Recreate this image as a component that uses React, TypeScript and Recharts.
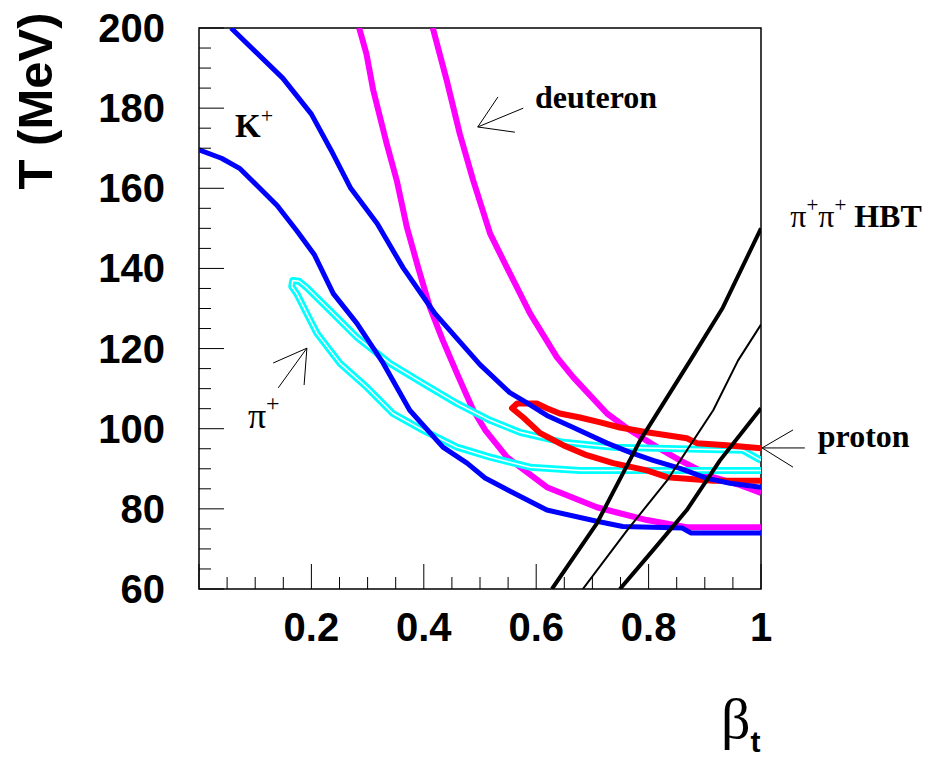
import React from 'react'
import { LineChart, Line, XAxis, YAxis, ReferenceArea, ReferenceLine, ReferenceDot } from 'recharts'

// contours: [beta_t, T in MeV]
const kaonUpper = [
  [0.057, 200], [0.149, 187.5], [0.2, 178.5], [0.235, 169.5], [0.27, 160], [0.317, 151.2], [0.363, 140.2],
  [0.42, 128.7], [0.5, 116], [0.553, 109], [0.577, 107], [0.619, 103.3], [0.666, 100.3],
  [0.726, 96.4], [0.767, 94.1], [0.808, 92.1], [0.856, 90.1], [0.904, 87.6], [0.945, 86.4], [1, 85.4],
]
const kaonLower = [
  [0, 169.6], [0.04, 167.5], [0.073, 164.9], [0.139, 155.7], [0.174, 149.4], [0.205, 143.5],
  [0.239, 133.7], [0.281, 126.3], [0.328, 116.3], [0.375, 104.6], [0.434, 95.4], [0.477, 91.4],
  [0.509, 87.7], [0.559, 84], [0.619, 79.7], [0.708, 76.9], [0.754, 75.6], [0.86, 75.2], [0.875, 74], [1, 74],
]
const deutLower = [
  [0.285, 200], [0.298, 193.5], [0.31, 184.5], [0.334, 171.1], [0.352, 161.9], [0.37, 150.2],
  [0.39, 140.2], [0.411, 130.2], [0.434, 122], [0.459, 113.8], [0.488, 104.6], [0.51, 99.5],
  [0.548, 92.9], [0.619, 85.4], [0.708, 80.4], [0.749, 78.9], [0.797, 77.2], [0.868, 75.4], [1, 75.4],
]
const deutUpper = [
  [0.416, 200], [0.441, 186.8], [0.464, 173.6], [0.488, 161.9], [0.518, 148.7], [0.548, 140.2],
  [0.589, 128.8], [0.637, 117.8], [0.666, 112.8], [0.726, 103.8], [0.767, 99.6], [0.815, 95.4],
  [0.856, 92.1], [0.915, 87.9], [0.963, 85.9], [1, 84],
]
const pionLoop = [
  [1, 92.1], [0.968, 94.6], [0.737, 95.4], [0.648, 96.6], [0.571, 99.1], [0.518, 102.1], [0.459, 106.3],
  [0.399, 111.3], [0.34, 116.3], [0.281, 122.8], [0.233, 129.5], [0.192, 135.2], [0.178, 136.8],
  [0.167, 137], [0.165, 135.5], [0.174, 133.7], [0.192, 128.7], [0.21, 123.8], [0.251, 116.3],
  [0.299, 110.3], [0.345, 103.8], [0.399, 99.6], [0.459, 95.4], [0.518, 92.9], [0.589, 90.4],
  [0.678, 89.6], [1, 89.6],
]
const protonLoop = [
  [1, 95.1], [0.939, 95.9], [0.886, 96.4], [0.868, 97.6], [0.797, 99.1], [0.749, 100.3], [0.714, 101.6],
  [0.678, 102.8], [0.642, 103.8], [0.619, 105.1], [0.601, 106.3], [0.566, 106.3], [0.557, 105.1],
  [0.577, 102.8], [0.607, 98.9], [0.648, 95.9], [0.69, 93.4], [0.737, 91.4], [0.797, 89.6],
  [0.833, 87.9], [0.915, 87], [1, 87],
]
const hbtA = [[0.628, 60], [0.708, 76.4], [0.785, 97.1], [0.874, 117], [0.932, 130.2], [1, 150]]
const hbtB = [[0.683, 60], [0.762, 74.7], [0.833, 87.1], [0.915, 104.6], [0.959, 117], [1, 126]]
const hbtC = [[0.749, 60], [0.808, 69.7], [0.868, 79.7], [0.927, 92.1], [1, 105.1]]

const xTicks = [0, 0.05, 0.1, 0.15, 0.2, 0.25, 0.3, 0.35, 0.4, 0.45, 0.5, 0.55, 0.6, 0.65, 0.7, 0.75, 0.8, 0.85, 0.9, 0.95, 1]
const xMajor = [0, 0.2, 0.4, 0.6, 0.8, 1]
const xLabels = ['', '0.2', '0.4', '0.6', '0.8', '1']
const yTicks = [60, 65, 70, 75, 80, 85, 90, 95, 100, 105, 110, 115, 120, 125, 130, 135, 140, 145, 150, 155, 160, 165, 170, 175, 180, 185, 190, 195, 200]
const yMajor = [60, 80, 100, 120, 140, 160, 180, 200]

// arrows: tip first, then the three barbs
const deutArrow = [[0.496, 175.3], [0.532, 182.8], [0.577, 180], [0.562, 174]]
const pionArrow = [[0.192, 120.1], [0.132, 116.4], [0.141, 110.2], [0.187, 110.9]]
const protonArrow = [[1.002, 95.2], [1.057, 99.7], [1.078, 95.2], [1.057, 90.4]]

const toPts = (a: number[][]) => a.map(([b, t]) => ({ b, t }))

const sans = '"Liberation Sans", Arial, sans-serif'
const serif = '"Liberation Serif", "Times New Roman", serif'

const XTick = (props: any) => {
  const { x, y, payload } = props
  const i = xMajor.indexOf(payload.value)
  const len = i >= 0 ? 25 : 12
  return (
    <g>
      <line x1={x} y1={y} x2={x} y2={y - len} stroke="#000" strokeWidth={1} />
      {i > 0 && (
        <text x={x} y={y + 52} textAnchor="middle" fontFamily={sans} fontWeight="bold" fontSize={40} fill="#000">
          {xLabels[i]}
        </text>
      )}
    </g>
  )
}

const YTick = (props: any) => {
  const { x, y, payload } = props
  const major = yMajor.includes(payload.value)
  return (
    <g>
      <line x1={x} y1={y} x2={x + (major ? 25 : 12)} y2={y} stroke="#000" strokeWidth={1} />
      {major && (
        <text x={x - 34} y={y + 14} textAnchor="end" fontFamily={sans} fontWeight="bold" fontSize={40} fill="#000">
          {payload.value}
        </text>
      )}
    </g>
  )
}

const vbOf = (p: any) => p.viewBox || { x: p.x, y: p.y, width: 0, height: 0 }

const note = (content: (x: number, y: number) => React.ReactNode) => ({
  content: (p: any) => {
    const vb = vbOf(p)
    return content(vb.x, vb.y)
  },
})

const arrow = (a: number[][], key: string) =>
  a.slice(1).map((e, i) => (
    <ReferenceLine
      key={key + i}
      segment={[{ x: a[0][0], y: a[0][1] }, { x: e[0], y: e[1] }]}
      stroke="#000"
      strokeWidth={1}
      ifOverflow="visible"
    />
  ))

const series = (data: number[][], color: string, width: number, key: string) => (
  <Line
    key={key}
    data={toPts(data)}
    dataKey="t"
    type="linear"
    stroke={color}
    strokeWidth={width}
    strokeLinejoin="round"
    dot={false}
    activeDot={false}
    isAnimationActive={false}
  />
)

export default function App() {
  return (
    <div style={{ position: 'absolute', left: 0, top: 0, background: '#fff' }}>
      <LineChart width={935} height={759} margin={{ top: 28, right: 174, bottom: 0, left: 0 }}>
        <XAxis
          type="number"
          dataKey="b"
          domain={[0, 1]}
          ticks={xTicks}
          interval={0}
          allowDataOverflow
          axisLine={false}
          tickLine={false}
          tickSize={0}
          tickMargin={0}
          height={170}
          tick={<XTick />}
          label={{
            content: (p: any) => {
              const vb = vbOf(p)
              return (
                <text x={vb.x + vb.width - 40} y={vb.y + 149} fill="#000">
                  <tspan fontFamily={serif} fontSize={58}>β</tspan>
                  <tspan fontFamily={sans} fontWeight="bold" fontSize={30} dy={14}>t</tspan>
                </text>
              )
            },
          }}
        />
        <YAxis
          type="number"
          dataKey="t"
          domain={[60, 200]}
          ticks={yTicks}
          interval={0}
          allowDataOverflow
          axisLine={false}
          tickLine={false}
          tickSize={0}
          tickMargin={0}
          width={199}
          tick={<YTick />}
          label={{
            content: () => (
              <text
                x={52}
                y={101}
                transform="rotate(-90 52 101)"
                textAnchor="middle"
                fontFamily={sans}
                fontWeight="bold"
                fontSize={49}
                fill="#000"
              >
                T (MeV)
              </text>
            ),
          }}
        />

        {series(deutLower, '#ff00ff', 6, 'dl')}
        {series(deutUpper, '#ff00ff', 6, 'du')}
        {series(pionLoop, '#00ffff', 7, 'pi')}
        {series(pionLoop, '#ffffff', 1.5, 'piw')}
        {series(protonLoop, '#ff0000', 6, 'pr')}
        {series(kaonUpper, '#0000ff', 5, 'ku')}
        {series(kaonLower, '#0000ff', 5, 'kl')}
        {series(hbtA, '#000000', 4, 'ha')}
        {series(hbtB, '#000000', 2, 'hb')}
        {series(hbtC, '#000000', 4, 'hc')}

        <ReferenceArea x1={0} x2={1} y1={60} y2={200} fill="none" stroke="#000" strokeWidth={1.5} ifOverflow="visible" />

        {arrow(deutArrow, 'da')}
        {arrow(pionArrow, 'pa')}
        {arrow(protonArrow, 'pra')}

        <ReferenceDot x={0.064} y={172.8} r={0} fill="none" stroke="none" ifOverflow="visible"
          label={note((x, y) => (
            <text x={x} y={y} fill="#000" fontFamily={serif} fontWeight="bold" fontSize={33}>
              K<tspan fontSize={22} fontWeight="normal" dy={-14}>+</tspan>
            </text>
          ))} />
        <ReferenceDot x={0.598} y={180} r={0} fill="none" stroke="none" ifOverflow="visible"
          label={note((x, y) => (
            <text x={x} y={y} fill="#000" fontFamily={serif} fontWeight="bold" fontSize={32}>deuteron</text>
          ))} />
        <ReferenceDot x={0.087} y={100.2} r={0} fill="none" stroke="none" ifOverflow="visible"
          label={note((x, y) => (
            <text x={x} y={y} fill="#000" fontFamily={serif} fontSize={36}>
              π<tspan fontSize={24} dy={-17}>+</tspan>
            </text>
          ))} />
        <ReferenceDot x={1.052} y={150.3} r={0} fill="none" stroke="none" ifOverflow="visible"
          label={note((x, y) => (
            <text x={x} y={y} fill="#000" fontFamily={serif} fontSize={32}>
              π<tspan fontSize={21} dy={-15}>+</tspan>
              <tspan dy={15}>π</tspan>
              <tspan fontSize={21} dy={-15}>+</tspan>
              <tspan dy={15} fontWeight="bold"> HBT</tspan>
            </text>
          ))} />
        <ReferenceDot x={1.101} y={95.4} r={0} fill="none" stroke="none" ifOverflow="visible"
          label={note((x, y) => (
            <text x={x} y={y} fill="#000" fontFamily={serif} fontWeight="bold" fontSize={32}>proton</text>
          ))} />
      </LineChart>
    </div>
  )
}
